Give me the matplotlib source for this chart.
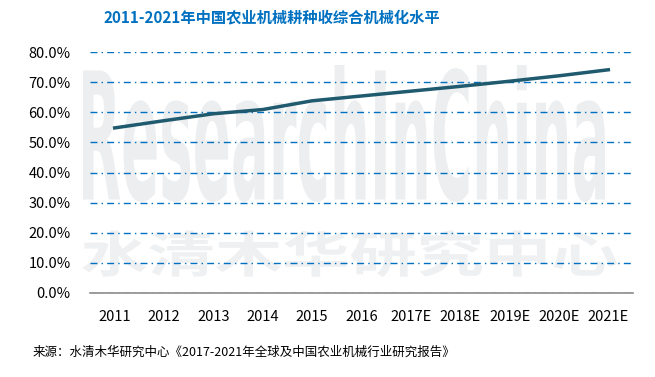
import matplotlib.pyplot as plt
from matplotlib.ticker import FuncFormatter
from matplotlib.textpath import TextPath
from matplotlib.patches import PathPatch
from matplotlib.font_manager import FontProperties
from matplotlib.transforms import Affine2D

plt.rcParams['font.family'] = ['Noto Sans CJK SC', 'DejaVu Sans']

# datos
anios = ['2011', '2012', '2013', '2014', '2015', '2016', '2017E', '2018E', '2019E', '2020E', '2021E']
nivel = [54.8, 57.2, 59.5, 60.9, 63.8, 65.4, 67.0, 68.6, 70.3, 72.1, 74.1]
yticks = [0, 10, 20, 30, 40, 50, 60, 70, 80]

titulo = '2011-2021年中国农业机械耕种收综合机械化水平'
fuente = '来源：水清木华研究中心《2017-2021年全球及中国农业机械行业研究报告》'

W, H = 655, 377
fig = plt.figure(figsize=(W / 100, H / 100), dpi=100)
ax = fig.add_axes([90 / W, 1 - 293 / H, (633 - 90) / W, (293 - 52) / H])


# marca de agua estirada dentro de una caja (en pixeles)
def marca(texto, caja, color, fp):
    x0, y0, x1, y1 = caja
    tp = TextPath((0, 0), texto, size=50, prop=fp)
    ext = tp.get_extents()
    t = (Affine2D().translate(-ext.x0, -ext.y0)
         .scale((x1 - x0) / ext.width / W, (y1 - y0) / ext.height / H)
         .translate(x0 / W, 1 - y1 / H))
    fig.patches.append(PathPatch(tp, transform=t + fig.transFigure, color=color, lw=0, zorder=-5))


marca('ResearchInChina', (83, 65, 605, 202), '#eceef0', FontProperties(family='DejaVu Sans', weight='bold'))
marca('水清木华研究中心', (82, 230, 617, 277), '#eff0f2', FontProperties(family='Noto Sans CJK SC', weight='bold'))

x = range(len(anios))
ax.plot(x, nivel, color='#1f5a6e', linewidth=2.5, zorder=3)

ax.set_ylim(0, 80)
ax.set_xlim(-0.5, len(anios) - 0.5)
ax.set_yticks(yticks)
ax.yaxis.set_major_formatter(FuncFormatter(lambda v, p: f'{v:.1f}%'))
ax.set_xticks(list(x))
ax.set_xticklabels(anios)
ax.tick_params(length=0, labelsize=10.5, colors='black')
ax.tick_params(axis='x', pad=12)
ax.tick_params(axis='y', pad=14)
ax.grid(axis='y', color='#0070c0', linestyle=(0, (5, 3, 1, 3)), linewidth=1)
for s in ax.spines.values():
    s.set_visible(False)
ax.spines['bottom'].set_visible(True)
ax.spines['bottom'].set_color('#8c8c8c')
ax.spines['bottom'].set_linewidth(1.2)
ax.spines['bottom'].set_zorder(4)
ax.patch.set_alpha(0)

fig.text(0.415, 0.955, titulo, fontsize=11, fontweight='bold', color='#0070c0', ha='center', va='center')
fig.text(0.05, 0.065, fuente, fontsize=9, color='black', ha='left', va='center')

plt.savefig('out.png', dpi=100)
